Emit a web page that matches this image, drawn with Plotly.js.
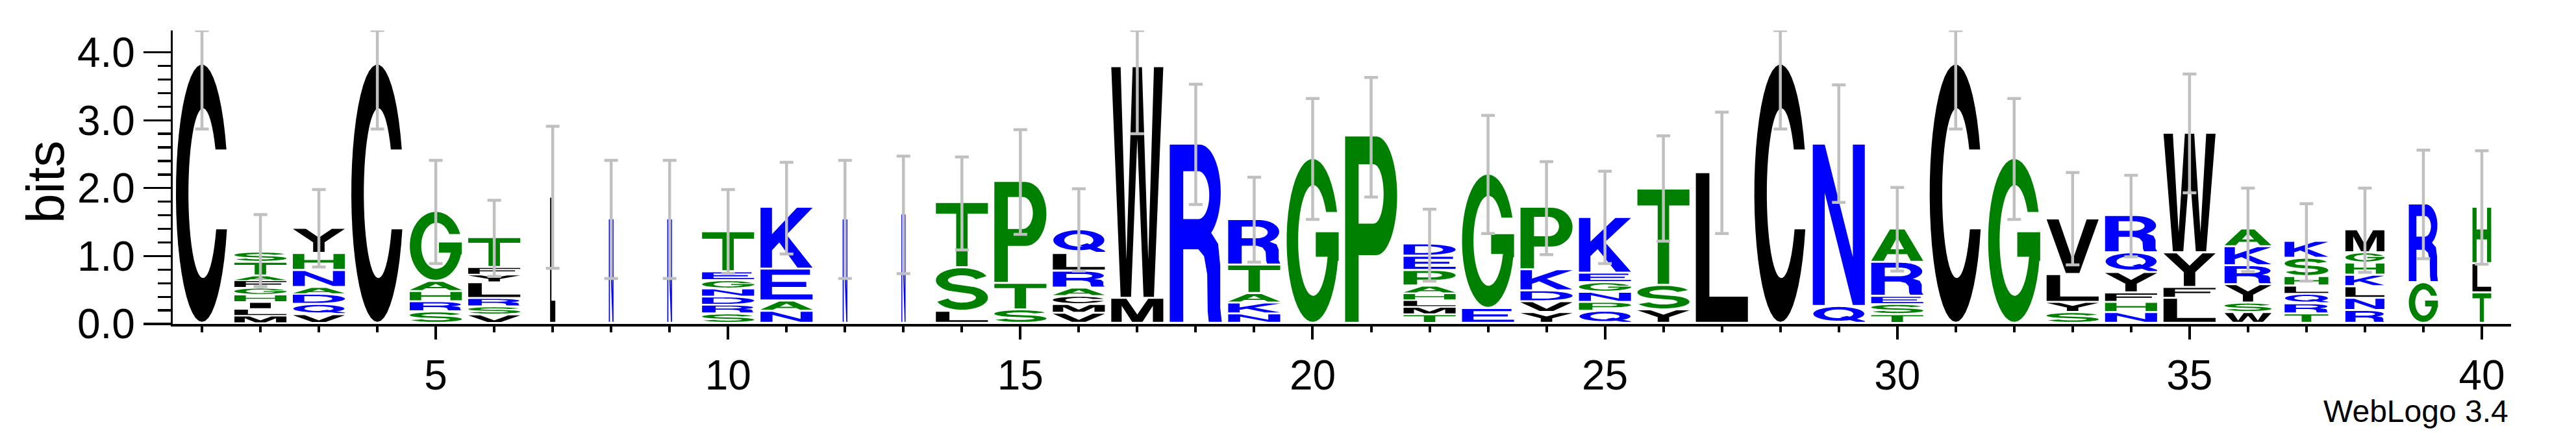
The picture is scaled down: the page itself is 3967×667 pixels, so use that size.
<!DOCTYPE html>
<html>
<head>
<meta charset="utf-8">
<script src="https://cdn.plot.ly/plotly-3.0.1.min.js"></script>
<style>html,body{margin:0;padding:0;background:#fff;}#chart{width:3967px;height:667px;}</style>
</head>
<body>
<div id="chart"></div>
<script>
// ---------------- data ----------------
const positions = [1,2,3,4,5,6,7,8,9,10,11,12,13,14,15,16,17,18,19,20,21,22,23,24,25,26,27,28,29,30,31,32,33,34,35,36,37,38,39,40];
// letters of each stack, bottom -> top
const stackLetters = [
  "C","MLIHGFATS","VQDANHY","C","SRHAG","VSRLYFT","L","N","N","SRDNGET","NAEK","N","N",
  "LST","STP","VMCARLQ","MW","R","NKATR","G","P","TMLHAPED","EG","YVDKP","QPNGEK","YST",
  "L","C","QN","TSERA","C","G","SYLV","NHFYQR","LFYW","WSYRKA","TRQLHSK","RNLKHGM","GR","TLH"
];
// letter heights in bits, same order
const stackHeights = [
  [3.82],
  [0.11,0.10,0.10,0.11,0.10,0.11,0.07,0.20,0.15],
  [0.13,0.15,0.15,0.10,0.25,0.25,0.37],
  [3.82],
  [0.17,0.15,0.15,0.15,1.03],
  [0.127,0.118,0.122,0.233,0.114,0.11,0.441],
  [1.86],
  [1.54],
  [1.54],
  [0.14,0.13,0.12,0.12,0.12,0.13,0.59],
  [0.18,0.15,0.47,0.91],
  [1.54],
  [1.61],
  [0.18,0.64,0.96],
  [0.20,0.39,1.50],
  [0.15,0.13,0.12,0.12,0.25,0.26,0.35],
  [0.37,3.41],
  [2.64],
  [0.14,0.16,0.14,0.42,0.67],
  [2.43],
  [2.76],
  [0.13,0.11,0.10,0.10,0.11,0.23,0.21,0.18],
  [0.22,1.98],
  [0.16,0.16,0.16,0.31,0.92],
  [0.18,0.13,0.15,0.14,0.14,0.82],
  [0.20,0.36,1.42],
  [2.22],
  [3.82],
  [0.25,2.39],
  [0.13,0.15,0.12,0.50,0.49],
  [3.82],
  [2.43],
  [0.16,0.15,0.41,0.82],
  [0.16,0.15,0.14,0.30,0.29,0.55],
  [0.37,0.16,0.51,1.76],
  [0.16,0.14,0.27,0.28,0.28,0.26],
  [0.14,0.15,0.14,0.12,0.14,0.27,0.25],
  [0.19,0.18,0.17,0.17,0.18,0.15,0.34],
  [0.60,1.16],
  [0.45,0.43,0.83]
];
// relative stack widths (fraction of non-gap symbols)
const stackWidths = [1,1,1,1,1,1,0.1,0.09,0.09,1,1,0.09,0.08,1,1,1,1,1,1,1,1,1,1,1,1,1,1,1,1,1,1,1,1,1,1,0.9,0.84,0.75,0.56,0.36];
// error bar ends (bits)
const errLow  = [2.87,0.55,0.84,2.87,0.89,0.70,0.82,0.67,0.67,0.74,1.03,0.67,0.74,1.09,1.32,0.78,2.80,1.76,0.91,1.54,1.87,0.63,1.33,1.02,0.89,1.22,1.33,2.87,1.79,0.78,2.87,1.54,0.87,0.99,1.93,0.77,0.63,0.76,0.96,0.88];
const errHigh = [4.32,1.61,1.98,4.32,2.41,1.82,2.91,2.41,2.41,1.98,2.38,2.41,2.47,2.46,2.86,1.99,4.32,3.53,2.16,3.32,3.63,1.69,3.07,2.39,2.25,2.77,3.12,4.32,3.52,2.01,4.32,3.32,2.23,2.19,3.68,2.00,1.77,2.00,2.56,2.55];
const xTickValues = [5,10,15,20,25,30,35,40];
const yTickValues = [0,1,2,3,4];
const yTickLabels = ["0.0","1.0","2.0","3.0","4.0"];

// ---------------- style ----------------
const colourGroups = {"#0000ff":"RKDENQ","#008000":"SGHTAP","#000000":"YVMCLFIW"};
function letterColour(ch){ for (const c in colourGroups) if (colourGroups[c].includes(ch)) return c; return "#000"; }

// ---------------- glyph outlines (unit box 0..100) ----------------
const TAU = Math.PI*2;
function ell(cx,cy,rx,ry,t0,t1,n){ const p=[]; for(let i=0;i<=n;i++){const t=t0+(t1-t0)*i/n; p.push([cx+rx*Math.cos(t),cy+ry*Math.sin(t)]);} return p; }
function stroke(spine,wx,wy){
  const L=[],R=[];
  for(let i=0;i<spine.length;i++){
    const p=spine[i],a=spine[Math.max(0,i-1)],b=spine[Math.min(spine.length-1,i+1)];
    let dx=(b[0]-a[0])/wx, dy=(b[1]-a[1])/wy; const l=Math.hypot(dx,dy)||1; dx/=l; dy/=l;
    const nx=-dy*wx/2, ny=dx*wy/2;
    L.push([p[0]+nx,p[1]+ny]); R.push([p[0]-nx,p[1]-ny]);
  }
  return L.concat(R.reverse());
}
const GLYPHS = {
  A:[[ [[0,0],[36,100],[64,100],[100,0],[76,0],[69,21],[31,21],[24,0]], [[37,37],[63,37],[50,76]] ]],
  C:[[ ell(50,50,50,50,0.3469,TAU-0.2838,44).concat(ell(52,50,28,33,TAU-0.4381,0.5412,44)) ]],
  D:[[ [[0,0],[0,100],[45,100]].concat(ell(45,50,55,50,Math.PI/2,-Math.PI/2,32)),
       [[22,17],[22,83],[42,83]].concat(ell(42,50,34,33,Math.PI/2,-Math.PI/2,32)) ]],
  E:[[ [[0,0],[0,100],[95,100],[95,83],[22,83],[22,59],[88,59],[88,42],[22,42],[22,17],[100,17],[100,0]] ]],
  F:[[ [[0,0],[0,100],[100,100],[100,83],[22,83],[22,58],[90,58],[90,41],[22,41],[22,0]] ]],
  G:[[ ell(50,50,50,50,0.3576,TAU-0.2527,44).concat([[100,37.5],[100,55],[56,55],[56,40]]).concat(ell(51,50,29,34,TAU-0.2985,0.5407,44)) ]],
  H:[[ [[0,0],[0,100],[22,100],[22,60],[78,60],[78,100],[100,100],[100,0],[78,0],[78,42],[22,42],[22,0]] ]],
  I:[[ [[30,0],[30,100],[70,100],[70,0]] ]],
  K:[[ [[0,0],[0,100],[22,100],[22,56],[70,100],[100,100],[50,55],[100,0],[71,0],[36,42],[22,29],[22,0]] ]],
  L:[[ [[0,0],[0,100],[26,100],[26,17],[100,17],[100,0]] ]],
  M:[[ [[0,0],[0,100],[29,100],[50,32],[71,100],[100,100],[100,0],[80,0],[80,70],[60,0],[40,0],[20,70],[20,0]] ]],
  N:[[ [[0,0],[0,100],[23,100],[77,30],[77,100],[100,100],[100,0],[77,0],[23,70],[23,0]] ]],
  P:[[ [[0,0],[0,100],[60,100]].concat(ell(60,68,40,32,Math.PI/2,-Math.PI/2,30)).concat([[26,36],[26,0]]),
       [[26,53],[26,85],[55,85]].concat(ell(55,69,19,16,Math.PI/2,-Math.PI/2,24)) ]],
  Q:[[ ell(50,54,49,46,0,TAU,56), ell(50,54,28,29,0,TAU,44) ], [ [[52,30],[66,40],[100,6],[100,0],[84,0]] ]],
  R:[[ [[0,0],[0,100],[58,100]].concat(ell(58,73,40,27,Math.PI/2,-1.0,30)).concat([[93,44],[97,32],[97,8],[100,0],[75,0],[73,6],[72,27],[66,37],[55,41],[26,41],[26,0]]),
       [[26,58],[26,85],[55,85]].concat(ell(55,71.5,21,13.5,Math.PI/2,-Math.PI/2,24)) ]],
  S:[[ stroke(ell(50,71,38.5,20.5,0.3,4.1,36).concat(ell(50,29,38.5,20.5,1.0,-2.85,36)),23,17) ]],
  T:[[ [[0,83],[0,100],[100,100],[100,83],[61,83],[61,0],[39,0],[39,83]] ]],
  V:[[ [[0,100],[23,100],[50,24],[77,100],[100,100],[63,0],[37,0]] ]],
  W:[[ [[0,100],[18,100],[29,16],[41,100],[59,100],[71,16],[82,100],[100,100],[82,0],[62,0],[50,69],[38,0],[18,0]] ]],
  Y:[[ [[0,100],[25,100],[50,62],[75,100],[100,100],[61,42],[61,0],[39,0],[39,42]] ]]
};
function glyphPath(contours,x0,w,y0,h){
  return contours.map(c=>'M'+c.map(p=>(x0+p[0]/100*w).toFixed(5)+','+(y0+p[1]/100*h).toFixed(5)).join('L')+'Z').join('');
}

// ---------------- build ----------------
const shapes = [];
const totals = [];
positions.forEach((pos,i)=>{
  const letters = stackLetters[i], hs = stackHeights[i];
  const gw = 0.89*stackWidths[i];
  let y = 0;
  for(let k=0;k<letters.length;k++){
    const ch = letters[k], h = hs[k];
    const inset = Math.min(0.03, 0.22*h);
    GLYPHS[ch].forEach(part=>{
      shapes.push({type:'path', xref:'x', yref:'y', layer:'below', fillrule:'evenodd',
        fillcolor:letterColour(ch), line:{width:0},
        path:glyphPath(part, pos-gw/2, gw, y+inset, h-inset)});
    });
    y += h;
  }
  totals.push(y);
});

const errTrace = {
  type:'scatter', mode:'markers', x:positions, y:totals,
  marker:{size:1,color:'rgba(0,0,0,0)'}, hoverinfo:'skip', cliponaxis:false,
  error_y:{type:'data', symmetric:false,
    array: totals.map((t,i)=>errHigh[i]-t), arrayminus: totals.map((t,i)=>t-errLow[i]),
    color:'#c0c0c0', thickness:4.5, width:10.5}
};

const font = 'Liberation Sans, Arial, Helvetica, sans-serif';
const minorY = []; for(let v=0.2; v<3.95; v+=0.2){ if (Math.abs(v-Math.round(v))>0.05) minorY.push(+v.toFixed(1)); }
const layout = {
  width:3967, height:667,
  margin:{l:266, r:100, t:47, b:168, pad:0},
  paper_bgcolor:'#fff', plot_bgcolor:'#fff',
  showlegend:false, hovermode:false,
  font:{family:font, color:'#000'},
  xaxis:{range:[0.5,40.5], showgrid:false, zeroline:false, showline:true, linecolor:'#000', linewidth:4,
    tickmode:'array', tickvals:xTickValues, ticks:'outside', ticklen:20, tickwidth:4, tickcolor:'#000',
    tickfont:{family:font, size:64, color:'#000'},
    minor:{tickmode:'linear', tick0:0, dtick:1, ticks:'outside', ticklen:9, tickwidth:4, tickcolor:'#000', showgrid:false}},
  yaxis:{range:[0,4.321], showgrid:false, zeroline:false, showline:true, linecolor:'#000', linewidth:3.3,
    tickmode:'array', tickvals:yTickValues, ticktext:yTickLabels, ticks:'outside', ticklen:42, tickwidth:3.3, tickcolor:'#000',
    tickfont:{family:font, size:64, color:'#000'},
    minor:{tickmode:'array', tickvals:minorY, ticks:'outside', ticklen:20, tickwidth:3.3, tickcolor:'#000', showgrid:false}},
  shapes:shapes,
  annotations:[
    {text:'bits', xref:'paper', yref:'paper', x:(69-266)/3601, y:(499-280)/452, xanchor:'center', yanchor:'middle',
     textangle:-90, showarrow:false, font:{family:font, size:82, color:'#000'}},
    {text:'WebLogo 3.4', xref:'paper', yref:'paper', x:(3865-266)/3601, y:(499-633)/452, xanchor:'right', yanchor:'middle',
     showarrow:false, font:{family:font, size:48, color:'#000'}}
  ]
};
Plotly.newPlot('chart', [errTrace], layout, {staticPlot:true, displayModeBar:false});
</script>
</body>
</html>
